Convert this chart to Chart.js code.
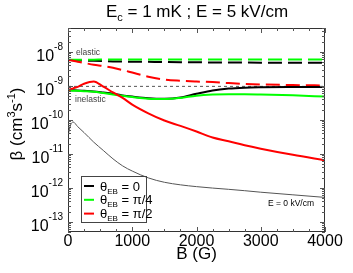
<!DOCTYPE html>
<html>
<head>
<meta charset="utf-8">
<script src="https://cdn.jsdelivr.net/npm/chart.js@4"></script>
<style>
  html, body { margin: 0; padding: 0; background: #fff; }
  canvas { display: block; }
</style>
</head>
<body>
<canvas id="chart" width="353" height="273"></canvas>
<script>
// magnetic field B (G), shared by all curves
const bField = [0, 40, 80, 150, 250, 400, 550, 700, 850, 1000, 1250, 1500, 1750, 2000, 2250, 2500, 2750, 3000, 3500, 4000];

// elastic rates (dashed)
const elasticTheta0 = [5.7e-9, 5.7e-9, 5.65e-9, 5.6e-9, 5.5e-9, 5.4e-9, 5.3e-9, 5.2e-9, 5.15e-9, 5.1e-9, 5.05e-9, 5.0e-9, 4.95e-9, 4.9e-9, 4.85e-9, 4.82e-9, 4.8e-9, 4.78e-9, 4.76e-9, 4.75e-9];
const elasticTheta45 = [5.8e-9, 5.8e-9, 5.8e-9, 5.85e-9, 5.85e-9, 5.85e-9, 5.9e-9, 5.9e-9, 5.9e-9, 5.9e-9, 5.9e-9, 5.9e-9, 5.9e-9, 5.9e-9, 5.9e-9, 5.9e-9, 5.9e-9, 5.9e-9, 5.9e-9, 5.9e-9];
const elasticTheta90 = [5.7e-9, 5.6e-9, 5.45e-9, 5.1e-9, 4.7e-9, 4.15e-9, 3.8e-9, 3.4e-9, 2.9e-9, 2.45e-9, 1.85e-9, 1.52e-9, 1.4e-9, 1.33e-9, 1.28e-9, 1.2e-9, 1.13e-9, 1.09e-9, 1.05e-9, 1.02e-9];

// inelastic rates (solid)
const inelasticTheta0 = [7.5e-10, 7.45e-10, 7.4e-10, 7.3e-10, 7.1e-10, 6.8e-10, 6.3e-10, 5.8e-10, 5.2e-10, 4.8e-10, 4.3e-10, 4.15e-10, 4.5e-10, 5.8e-10, 7.3e-10, 8.3e-10, 8.8e-10, 9.0e-10, 9.15e-10, 9.2e-10];
const inelasticTheta45 = [7.2e-10, 7.2e-10, 7.15e-10, 7.1e-10, 6.95e-10, 6.65e-10, 6.1e-10, 5.55e-10, 5.05e-10, 4.65e-10, 4.15e-10, 4.05e-10, 4.4e-10, 5.1e-10, 5.5e-10, 5.65e-10, 5.65e-10, 5.55e-10, 5.25e-10, 4.8e-10];
const inelasticTheta90 = [7.5e-10, 7.9e-10, 8.4e-10, 9.3e-10, 1.15e-9, 1.34e-9, 9.4e-10, 6.4e-10, 4.4e-10, 2.8e-10, 1.55e-10, 9.5e-11, 6.6e-11, 4.5e-11, 3.0e-11, 2.33e-11, 1.78e-11, 1.41e-11, 9.3e-12, 6.4e-12];

// E = 0 kV/cm reference curves (thin gray)
const inelasticNoField = [3.4e-11, 7.0e-11, 8.6e-11, 6.3e-11, 4.2e-11, 2.2e-11, 1.25e-11, 7.1e-12, 4.4e-12, 3.1e-12, 1.95e-12, 1.45e-12, 1.22e-12, 1.08e-12, 9.8e-13, 9.0e-13, 8.2e-13, 7.4e-13, 6.2e-13, 5.2e-13];
const elasticNoFieldB = [0, 4000];
const elasticNoField = [9.6e-10, 9.6e-10];

// axis ticks
const xTicks = [0, 1000, 2000, 3000, 4000];
const yTickExponents = [-8, -9, -10, -11, -12, -13];

// legend
const legendLabels = ['0', 'π/4', 'π/2'];
const legendColors = ['#000000', '#00ff00', '#ff0000'];

const FONT = '"Liberation Sans", Arial, Helvetica, sans-serif';

function pts(xs, ys) {
    return xs.map((b, i) => ({x: b, y: ys[i]}));
}

function solid(label, ys, color) {
    return {
        label: label, data: pts(bField, ys), borderColor: color,
        borderWidth: 2, pointRadius: 0, cubicInterpolationMode: 'monotone', fill: false
    };
}

function dashed(label, ys, color) {
    let ds = solid(label, ys, color);
    ds.borderDash = [14, 6];
    return ds;
}

// draw text made of pieces: [text, size, dy]
function drawPieces(ctx, pieces, x, y, align) {
    let total = 0;
    pieces.forEach(p => {
        ctx.font = p[1] + 'px ' + FONT;
        total += ctx.measureText(p[0]).width;
    });
    let cx = align === 'center' ? x - total / 2 : (align === 'right' ? x - total : x);
    ctx.textAlign = 'left';
    ctx.textBaseline = 'alphabetic';
    pieces.forEach(p => {
        ctx.font = p[1] + 'px ' + FONT;
        ctx.fillText(p[0], cx, y + (p[2] || 0));
        cx += ctx.measureText(p[0]).width;
    });
}

const decorations = {
    id: 'decorations',
    afterDraw(chart) {
        const {ctx, chartArea: a, scales: {x, y}} = chart;
        ctx.save();

        // frame
        ctx.strokeStyle = '#333';
        ctx.lineWidth = 1;
        ctx.strokeRect(a.left + 0.5, a.top + 0.5, a.right - a.left - 1, a.bottom - a.top - 1);

        // inward ticks
        ctx.strokeStyle = '#555';
        ctx.beginPath();
        for (let v = 0; v <= 4000; v += 250) {
            const px = Math.round(x.getPixelForValue(v)) + 0.5;
            const len = v % 1000 === 0 ? 5 : 3;
            ctx.moveTo(px, a.bottom); ctx.lineTo(px, a.bottom - len);
            ctx.moveTo(px, a.top); ctx.lineTo(px, a.top + len);
        }
        for (let e = -14; e <= -8; e++) {
            for (let m = 1; m <= 9; m++) {
                const v = m * Math.pow(10, e);
                if (v < y.min || v > y.max) continue;
                const py = Math.round(y.getPixelForValue(v)) + 0.5;
                const len = m === 1 ? 5 : 3;
                ctx.moveTo(a.left, py); ctx.lineTo(a.left + len, py);
                ctx.moveTo(a.right, py); ctx.lineTo(a.right - len, py);
            }
        }
        ctx.stroke();

        // y tick labels 10^n
        ctx.fillStyle = '#000';
        yTickExponents.forEach(e => {
            const py = y.getPixelForValue(Math.pow(10, e));
            ctx.font = '10px ' + FONT;
            const supW = ctx.measureText(String(e)).width;
            const sx = a.left - 5 - supW;
            ctx.textAlign = 'left';
            ctx.fillText(String(e), sx, py - 1.5);
            ctx.font = '16px ' + FONT;
            ctx.textAlign = 'right';
            ctx.fillText('10', sx, py + 9);
        });

        // title
        ctx.fillStyle = '#000';
        drawPieces(ctx, [['E', 17], ['c', 11, 4], [' = 1 mK ; E = 5 kV/cm', 17]], 197, 17, 'center');

        // y axis title
        ctx.save();
        ctx.translate(22, 124);
        ctx.rotate(-Math.PI / 2);
        drawPieces(ctx, [['β (cm', 17], ['3', 11, -7], ['s', 17], ['-1', 11, -7], [')', 17]], 0, 0, 'center');
        ctx.restore();

        // curve notes
        ctx.fillStyle = '#444';
        drawPieces(ctx, [['elastic', 8.5]], 76, 55, 'left');
        drawPieces(ctx, [['inelastic', 8.5]], 75, 101.5, 'left');
        ctx.fillStyle = '#000';
        drawPieces(ctx, [['E = 0 kV/cm', 8.5]], 268, 205.5, 'left');

        // legend
        ctx.strokeStyle = '#444';
        ctx.lineWidth = 1;
        ctx.strokeRect(81.5, 176.5, 65, 46);
        legendLabels.forEach((lab, i) => {
            const ly = 186 + i * 13.8;
            ctx.strokeStyle = legendColors[i];
            ctx.lineWidth = 2;
            ctx.beginPath();
            ctx.moveTo(84, ly); ctx.lineTo(94, ly);
            ctx.stroke();
            ctx.fillStyle = '#000';
            drawPieces(ctx, [['θ', 13], ['EB', 8, 3], [' = ' + lab, 13]], 100, ly + 4.5, 'left');
        });

        ctx.restore();
    }
};

new Chart(document.getElementById('chart'), {
    type: 'line',
    data: {
        datasets: [
            solid('inelastic π/2', inelasticTheta90, '#ff0000'),
            solid('inelastic π/4', inelasticTheta45, '#00ff00'),
            solid('inelastic 0', inelasticTheta0, '#000000'),
            dashed('elastic π/2', elasticTheta90, '#ff0000'),
            dashed('elastic π/4', elasticTheta45, '#00ff00'),
            dashed('elastic 0', elasticTheta0, '#000000'),
            {
                label: 'elastic E=0', data: pts(elasticNoFieldB, elasticNoField),
                borderColor: '#555', borderWidth: 1, borderDash: [3, 3], pointRadius: 0, fill: false
            },
            {
                label: 'inelastic E=0', data: pts(bField, inelasticNoField),
                borderColor: '#555', borderWidth: 1, pointRadius: 0,
                cubicInterpolationMode: 'monotone', fill: false
            }
        ]
    },
    options: {
        responsive: false,
        animation: false,
        events: [],
        layout: {padding: {left: 0, right: 28, top: 28, bottom: 0}},
        plugins: {legend: {display: false}, tooltip: {enabled: false}, title: {display: false}},
        scales: {
            x: {
                type: 'linear', min: 0, max: 4000,
                grid: {display: false, drawTicks: false}, border: {display: false},
                afterBuildTicks: s => { s.ticks = xTicks.map(v => ({value: v})); },
                ticks: {
                    font: {family: FONT, size: 16}, color: '#000', padding: 0,
                    maxRotation: 0, autoSkip: false,
                    callback: v => String(v)
                },
                title: {
                    display: true, text: 'B (G)', color: '#000',
                    font: {family: FONT, size: 17}, padding: {top: 0, bottom: 8}
                },
                afterFit: s => { s.height = 41; }
            },
            y: {
                type: 'logarithmic', min: 5e-14, max: 5e-8,
                grid: {display: false, drawTicks: false}, border: {display: false},
                ticks: {display: false},
                afterFit: s => { s.width = 68; }
            }
        }
    },
    plugins: [decorations]
});
</script>
</body>
</html>
